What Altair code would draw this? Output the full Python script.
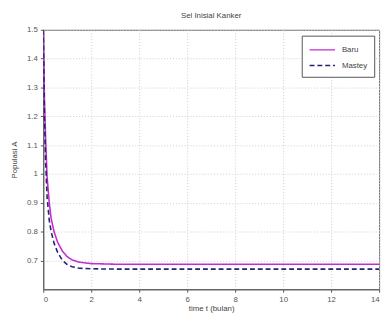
import altair as alt
import pandas as pd

# Data
t_vals = [0, 0.05, 0.1, 0.16, 0.25, 0.33, 0.45, 0.6, 0.8, 1.0, 1.2, 1.5, 2.0, 3.0, 4, 6, 8, 10, 12, 14]
baru = [1.50, 1.26, 1.12, 0.99, 0.90, 0.845, 0.80, 0.763, 0.732, 0.713, 0.702, 0.694, 0.689, 0.687, 0.687, 0.687, 0.687, 0.687, 0.687, 0.687]
mastey = [1.50, 1.20, 1.04, 0.92, 0.84, 0.80, 0.76, 0.728, 0.70, 0.686, 0.678, 0.673, 0.671, 0.670, 0.670, 0.670, 0.670, 0.670, 0.670, 0.670]
series_names = ["Baru", "Mastey"]
colors = ["#c62ad0", "#23236e"]
x_ticks = [0, 2, 4, 6, 8, 10, 12, 14]
y_ticks = [0.7, 0.8, 0.9, 1.0, 1.1, 1.2, 1.3, 1.4, 1.5]

rows = []
for name, vals in zip(series_names, [baru, mastey]):
    for t, v in zip(t_vals, vals):
        rows.append({"t": t, "value": v, "series": name})
df = pd.DataFrame(rows)

font = "Liberation Sans"

chart = alt.Chart(df).mark_line(strokeWidth=1.6, clip=True).encode(
    x=alt.X("t:Q", scale=alt.Scale(domain=[0, 14], nice=False),
            axis=alt.Axis(values=x_ticks, title="time t (bulan)", format="d")),
    y=alt.Y("value:Q", scale=alt.Scale(domain=[0.6, 1.5], nice=False, zero=False),
            axis=alt.Axis(values=y_ticks, title="Populasi A", format=".1~f")),
    color=alt.Color("series:N", sort=series_names,
                    scale=alt.Scale(domain=series_names, range=colors),
                    legend=alt.Legend(title=None, orient="none", legendX=264, legendY=6,
                                      symbolType="M-1,0H3", symbolSize=169, symbolStrokeWidth=1.5,
                                      strokeColor="#555555", fillColor="white", padding=7,
                                      labelFont=font, labelFontSize=8, labelColor="#444444",
                                      labelOffset=19, rowPadding=4, labelLimit=60)),
    strokeDash=alt.StrokeDash("series:N", sort=series_names,
                              scale=alt.Scale(domain=series_names, range=[[1, 0], [5, 3]]),
                              legend=None),
).properties(
    width=343, height=265,
    title=alt.TitleParams("Sel Inisial Kanker", font=font, fontSize=8, fontWeight="normal",
                          color="#444444", anchor="middle", offset=6),
    autosize=alt.AutoSizeParams(type="none"),
    padding={"left": 36, "top": 19, "right": 5, "bottom": 23},
).configure_view(
    stroke="#666666", strokeWidth=1
).configure_axis(
    labelFont=font, labelFontSize=8, labelColor="#555555",
    titleFont=font, titleFontSize=8, titleColor="#444444", titleFontWeight="normal",
    grid=True, gridColor="#cccccc", gridDash=[1, 2], gridWidth=1,
    domainColor="#555555", tickColor="#555555", tickSize=3,
    labelPadding=3,
).configure_axisX(titlePadding=2).configure_axisY(titlePadding=8)

chart.save("out.html", embed_options={"renderer": "svg", "actions": False})
